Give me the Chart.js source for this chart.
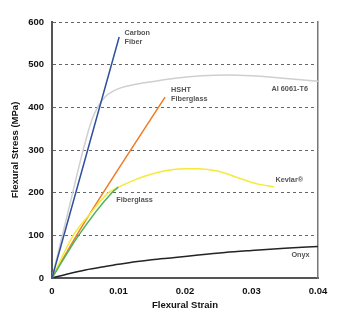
<!DOCTYPE html>
<html>
<head>
<meta charset="utf-8">
<script src="https://cdn.jsdelivr.net/npm/chart.js@4.4.1/dist/chart.umd.min.js"></script>
<style>
  html, body { margin: 0; padding: 0; background: #fff; }
</style>
</head>
<body>
<canvas id="chart" width="351" height="325"></canvas>
<script>
//Tick labels
const xTickLabels = ["0", "0.01", "0.02", "0.03", "0.04"];
const yTickLabels = ["0", "100", "200", "300", "400", "500", "600"];

//Strain / stress readings for each material
const carbonStrain = [0, 0.0101];
const carbonStress = [0, 565];

const hshtStrain = [0, 0.0037, 0.0077, 0.017];
const hshtStress = [0, 100, 200, 424];

const glassStrain = [0, 0.004, 0.009, 0.00997];
const glassStress = [0, 100, 200, 213];

const kevlarStrain = [0, 0.0032, 0.0057, 0.0085, 0.01, 0.012, 0.014, 0.016, 0.018, 0.02, 0.022, 0.025, 0.0285, 0.031, 0.0334];
const kevlarStress = [0, 100, 150, 200, 213, 227, 239, 248, 253.5, 256, 256, 250, 232, 220, 214];

const alStrain = [0, 0.0028, 0.0047, 0.006, 0.0069, 0.008, 0.0092, 0.0102, 0.0122, 0.015, 0.0185, 0.0225, 0.0265, 0.03, 0.0335, 0.04];
const alStress = [0, 180, 301, 371, 401, 425, 438, 445, 453, 460, 468, 474, 476, 474, 470, 461];

const onyxStrain = [0, 0.0025, 0.005, 0.0075, 0.01, 0.0125, 0.015, 0.0185, 0.022, 0.026, 0.03, 0.035, 0.04];
const onyxStress = [0, 10, 19, 26, 32, 38, 43, 48, 54, 60, 64.5, 69.5, 74];

//Curve labels, placed in data units
const curveLabels = [
  { text: "Carbon\nFiber", x: 0.0109, y: 564 },
  { text: "HSHT\nFiberglass", x: 0.0179, y: 430 },
  { text: "Al 6061-T6", x: 0.033, y: 444 },
  { text: "Kevlar®", x: 0.0336, y: 229 },
  { text: "Fiberglass", x: 0.00967, y: 184 },
  { text: "Onyx", x: 0.036, y: 53 },
];

const FONT = "'Liberation Sans', Arial, sans-serif";

const toPoints = (xs, ys) => xs.map((v, i) => ({ x: v, y: ys[i] }));

const series = (data, color) => ({
  data: data,
  borderColor: color,
  borderWidth: 1.5,
  pointRadius: 0,
  fill: false,
  cubicInterpolationMode: "monotone",
});

//draws the material names next to the curves
const labelPlugin = {
  id: "curveLabels",
  afterDatasetsDraw(chart) {
    const { ctx } = chart;
    const xs = chart.scales.x;
    const ys = chart.scales.y;
    ctx.save();
    ctx.font = "bold 7.3px " + FONT;
    ctx.fillStyle = "#555";
    ctx.textAlign = "left";
    ctx.textBaseline = "middle";
    curveLabels.forEach((l) => {
      const lines = l.text.split("\n");
      const px = xs.getPixelForValue(l.x);
      const py = ys.getPixelForValue(l.y);
      lines.forEach((t, i) => {
        ctx.fillText(t, px, py + (i - (lines.length - 1) / 2) * 8.4);
      });
    });
    ctx.restore();
  },
};

const tickFont = { family: FONT, size: 9.5, weight: "bold" };

new Chart(document.getElementById("chart"), {
  type: "line",
  plugins: [labelPlugin],
  data: {
    datasets: [
      series(toPoints(carbonStrain, carbonStress), "#2f4f9f"),
      series(toPoints(glassStrain, glassStress), "#4db35d"),
      series(toPoints(kevlarStrain, kevlarStress), "#f5ea3a"),
      series(toPoints(hshtStrain, hshtStress), "#f07b23"),
      series(toPoints(onyxStrain, onyxStress), "#232323"),
      series(toPoints(alStrain, alStress), "#cfcfcf"),
    ],
  },
  options: {
    responsive: false,
    animation: false,
    layout: { padding: { left: 0, right: 33, top: 22, bottom: 0 } },
    plugins: {
      legend: { display: false },
      tooltip: { enabled: false },
    },
    scales: {
      x: {
        type: "linear",
        min: 0,
        max: 0.04,
        afterFit: (s) => { s.height = 47; },
        afterBuildTicks: (s) => {
          s.ticks = xTickLabels.map((t) => ({ value: parseFloat(t) }));
        },
        ticks: {
          padding: 8,
          color: "#111",
          font: tickFont,
          callback: (v, i) => xTickLabels[i],
        },
        grid: { display: false, drawTicks: false },
        border: { display: true, color: "#555", width: 2 },
        title: {
          display: true,
          text: "Flexural Strain",
          color: "#111",
          font: tickFont,
          padding: { top: 0, bottom: 13.6 },
        },
      },
      y: {
        min: 0,
        max: 600,
        afterFit: (s) => { s.width = 52; },
        afterBuildTicks: (s) => {
          s.ticks = yTickLabels.map((t) => ({ value: parseFloat(t) }));
        },
        ticks: {
          padding: 8,
          color: "#111",
          font: tickFont,
          callback: (v, i) => yTickLabels[i],
        },
        grid: { color: "#666", lineWidth: 1, drawTicks: false },
        border: { display: true, color: "#555", width: 2, dash: [3, 3] },
        title: {
          display: true,
          text: "Flexural Stress (MPa)",
          color: "#111",
          font: tickFont,
          padding: { top: 10, bottom: 0 },
        },
      },
      //right frame line
      y2: {
        position: "right",
        min: 0,
        max: 600,
        afterFit: (s) => { s.width = 0; },
        ticks: { display: false },
        grid: { display: false, drawTicks: false },
        border: { display: true, color: "#777", width: 1.5 },
      },
    },
  },
});
</script>
</body>
</html>
